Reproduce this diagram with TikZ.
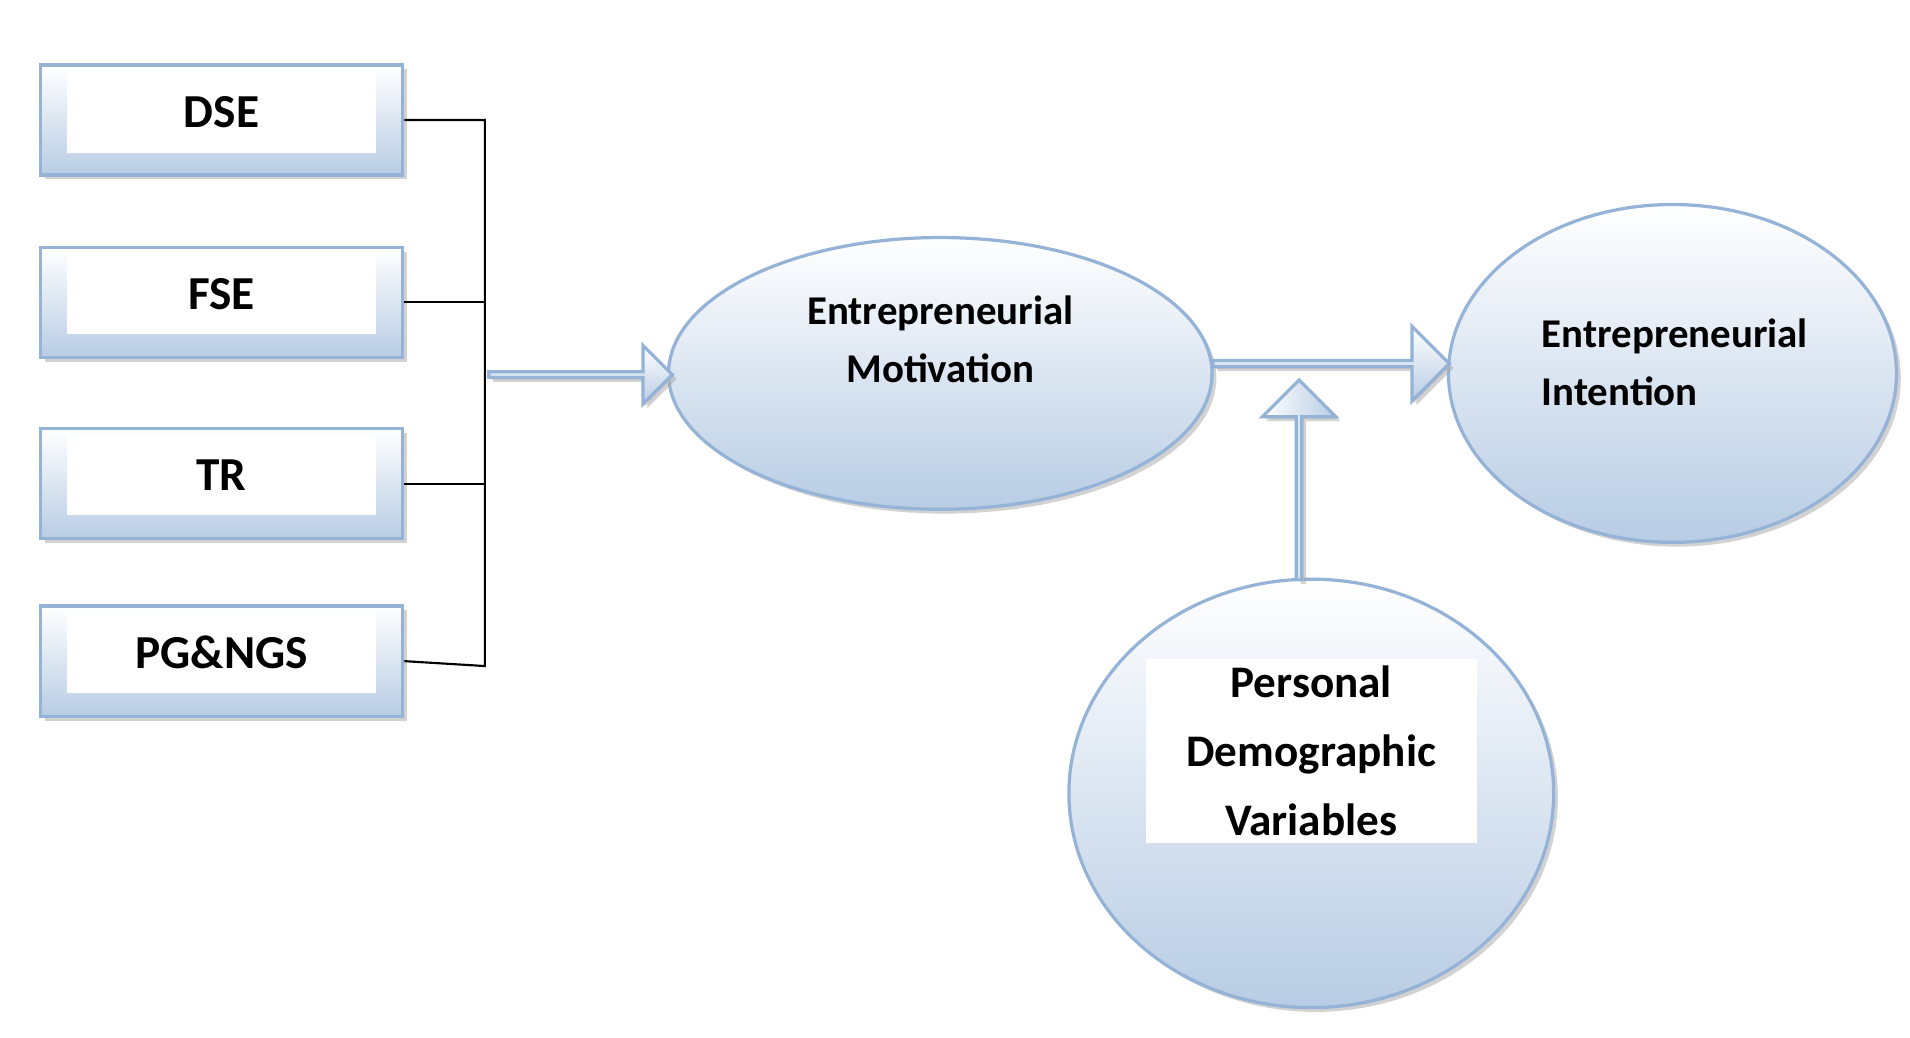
\documentclass[tikz,border=0pt]{standalone}
\usepackage{fontspec}
\setmainfont{Carlito}
\usetikzlibrary{shapes.arrows,shapes.geometric,shadows}
\definecolor{rim}{HTML}{95B3D7}
\definecolor{fillb}{HTML}{B8CCE4}
\tikzset{
  soft/.style={draw=rim,line width=1.5pt,top color=white,bottom color=fillb,
    drop shadow={shadow xshift=2pt,shadow yshift=-2pt,fill=black!35}},
  varbox/.style={soft,rectangle,minimum width=5.92cm,minimum height=1.8cm,inner sep=0pt},
  boxtag/.style={fill=white,minimum width=5.04cm,minimum height=1.32cm,inner sep=0pt,
    font=\bfseries\fontsize{22}{24}\selectfont},
  blob/.style={soft,ellipse,inner sep=0pt},
  fat/.style={soft,single arrow,inner sep=0pt,single arrow head indent=0pt,
    drop shadow={shadow xshift=1pt,shadow yshift=-1pt,fill=black!25}},
  btext/.style={font=\bfseries\fontsize{19}{27}\selectfont}
}
\begin{document}
\begin{tikzpicture}[x=0.02cm,y=-0.02cm]
\useasboundingbox (0,0) rectangle (1560,847);
% left boxes
\node[varbox] (dse) at (181,98) {};
\node[boxtag] at (181,92) {DSE};
\node[varbox] (fse) at (181,247) {};
\node[boxtag] at (181,240) {FSE};
\node[varbox] (tr) at (181,395) {};
\node[boxtag] at (181,388) {TR};
\node[varbox] (pg) at (181,540) {};
\node[boxtag] at (181,533) {PG\&NGS};
% bracket
\coordinate (btop) at (396,98);
\coordinate (bbot) at (396,544);
\draw[line width=1pt] (dse.east) -- (btop) -- (bbot) -- (pg.east);
\draw[line width=1pt] (fse.east) -- (fse.east -| btop);
\draw[line width=1pt] (tr.east) -- (tr.east -| btop);
% ellipses
\node[blob,minimum width=8.88cm,minimum height=4.44cm] (em) at (768,305) {};
\node[btext,align=center] at (768,277) {Entrepreneurial\\Motivation};
\node[blob,minimum width=7.32cm,minimum height=5.52cm] (ei) at (1366,305) {};
\node[btext,align=left,anchor=west] at (1253,296) {Entrepreneurial\\Intention};
\node[blob,minimum width=7.92cm,minimum height=7cm] (pdv) at (1071,648) {};
\node[fill=white,minimum width=5.4cm,minimum height=2.92cm,align=center,
  font=\bfseries\fontsize{21}{32}\selectfont] at (1071,613) {Personal\\Demographic\\Variables};
% block arrows
\node[fat,minimum height=3cm,minimum width=0.96cm,single arrow head extend=0.25cm] (a1) at (473,306) {};
\node[fat,minimum height=3.86cm,minimum width=1.22cm,single arrow head extend=0.29cm] (a2) at (1086,297) {};
\node[fat,shape border rotate=90,shading angle=90,minimum height=3.26cm,minimum width=1.2cm,
  single arrow head extend=0.32cm] (a3) at (1061,393) {};
\end{tikzpicture}
\end{document}
